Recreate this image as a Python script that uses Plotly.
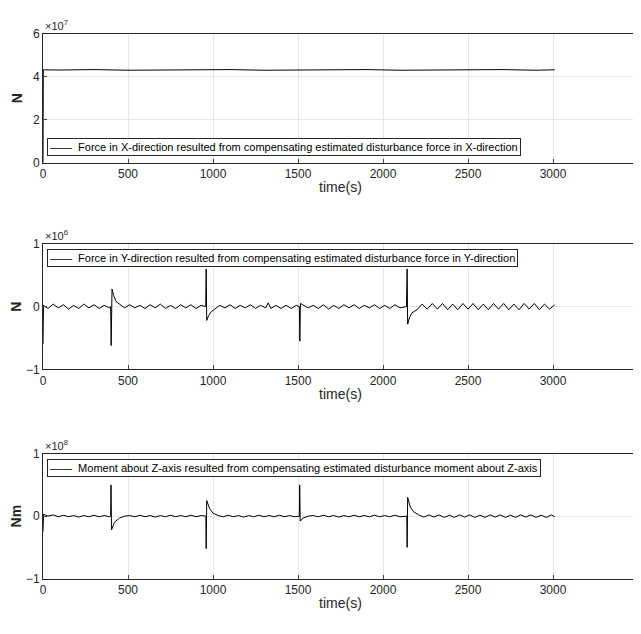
import plotly.graph_objects as go

# Force X (units 1e7 N)
fx_t = [0, 2, 100, 300, 500, 700, 900, 1100, 1300, 1500, 1700, 1900, 2100, 2300, 2500, 2700, 2900, 3010]
fx_v = [0.0, 4.32, 4.31, 4.33, 4.30, 4.32, 4.31, 4.33, 4.30, 4.32, 4.31, 4.33, 4.30, 4.32, 4.31, 4.33, 4.30, 4.32]

# Force Y (units 1e6 N)
fy_t = [0,3,30,60,90,120,150,180,210,240,270,300,330,360,390,398,401,406,415,430,450,480,510,540,570,600,630,660,690,720,750,780,810,840,870,900,930,957,960,963,975,990,1010,1040,1070,1100,1130,1160,1190,1220,1250,1280,1310,1325,1340,1370,1400,1430,1460,1490,1508,1511,1514,1530,1560,1590,1620,1650,1680,1710,1740,1770,1800,1830,1860,1890,1920,1950,1980,2010,2040,2070,2100,2138,2142,2145,2155,2170,2200,2230,2260,2290,2320,2350,2380,2410,2440,2470,2500,2530,2560,2590,2620,2650,2680,2710,2740,2770,2800,2830,2860,2890,2920,2950,2980,3010]
fy_v = [-0.6,0.02,-0.03,0.04,-0.02,0.03,-0.04,0.02,-0.03,0.04,-0.02,0.03,-0.03,0.02,-0.02,0.0,-0.62,0.28,0.18,0.08,0.04,-0.02,0.03,-0.02,0.02,-0.03,0.03,-0.02,0.04,-0.03,0.02,-0.03,0.03,-0.02,0.03,-0.03,0.02,0.0,0.6,-0.22,-0.14,-0.08,-0.04,0.02,-0.02,0.03,-0.03,0.02,-0.02,0.03,-0.03,0.02,-0.02,0.06,-0.03,0.02,-0.03,0.02,-0.03,0.02,0.0,-0.55,0.05,0.03,-0.02,0.02,-0.03,0.03,-0.04,0.02,-0.03,0.03,-0.02,0.03,-0.03,0.02,-0.02,0.03,-0.03,0.02,-0.03,0.03,-0.02,0.0,0.6,-0.28,-0.18,-0.1,-0.05,0.04,-0.04,0.05,-0.04,0.05,-0.05,0.04,-0.05,0.05,-0.04,0.05,-0.05,0.04,-0.05,0.05,-0.04,0.05,-0.05,0.04,-0.05,0.05,-0.04,0.05,-0.05,0.04,-0.04,0.03]

# Moment Z (units 1e8 Nm)
mz_t = [0,3,30,60,90,120,150,180,210,240,270,300,330,360,390,398,400,403,420,450,480,510,540,570,600,630,660,690,720,750,780,810,840,870,900,930,958,960,963,980,1000,1030,1060,1090,1120,1150,1180,1210,1240,1270,1300,1330,1360,1390,1420,1450,1480,1508,1510,1513,1530,1560,1590,1620,1650,1680,1710,1740,1770,1800,1830,1860,1890,1920,1950,1980,2010,2040,2070,2100,2140,2142,2145,2160,2180,2210,2240,2270,2300,2330,2360,2390,2420,2450,2480,2510,2540,2570,2600,2630,2660,2690,2720,2750,2780,2810,2840,2870,2900,2930,2960,2990,3010]
mz_v = [-0.25,0.03,0.0,0.02,-0.01,0.015,-0.01,0.01,-0.015,0.01,-0.01,0.015,-0.01,0.01,-0.01,0.0,0.5,-0.22,-0.1,-0.03,0.0,0.01,-0.01,0.015,-0.01,0.01,-0.015,0.01,-0.01,0.015,-0.01,0.01,-0.01,0.015,-0.01,0.01,0.0,-0.52,0.25,0.12,0.05,0.01,-0.01,0.015,-0.01,0.01,-0.015,0.01,-0.01,0.015,-0.01,0.01,-0.01,0.015,-0.01,0.01,-0.01,0.0,0.5,-0.08,-0.03,0.0,0.01,-0.01,0.015,-0.01,0.01,-0.015,0.01,-0.01,0.015,-0.01,0.01,-0.01,0.015,-0.01,0.01,-0.01,0.015,-0.01,0.0,-0.5,0.3,0.15,0.07,0.02,-0.015,0.02,-0.015,0.02,-0.02,0.015,-0.02,0.02,-0.015,0.02,-0.02,0.015,-0.02,0.02,-0.015,0.02,-0.02,0.015,-0.02,0.02,-0.015,0.02,-0.02,0.015,-0.02,0.02,-0.01,0.0]

panels = [
    (fx_t, fx_v, [0, 6], [0, 2, 4, 6], "N", "7",
     "Force in X-direction resulted from compensating estimated disturbance force in X-direction", "bottom"),
    (fy_t, fy_v, [-1, 1], [-1, 0, 1], "N", "6",
     "Force in Y-direction resulted from compensating estimated disturbance force in Y-direction", "top"),
    (mz_t, mz_v, [-1, 1], [-1, 0, 1], "Nm", "8",
     "Moment about Z-axis resulted from compensating estimated disturbance moment about Z-axis", "top"),
]
domains = [(0.756, 0.9595), (0.430, 0.628), (0.100, 0.297)]
font = "Liberation Sans Narrow, Liberation Sans, Arial"

fig = go.Figure()
layout = dict(width=641, height=634, showlegend=False, plot_bgcolor="white",
              paper_bgcolor="white", margin=dict(l=35, r=11, t=0, b=0, autoexpand=False),
              font=dict(family=font, size=12, color="#262626"))
annotations = []
for i, (t, v, yr, yt, ylab, exp, leg, legpos) in enumerate(panels):
    n = "" if i == 0 else str(i + 1)
    fig.add_trace(go.Scatter(x=t, y=v, mode="lines", line=dict(color="black", width=1),
                             xaxis="x" + n, yaxis="y" + n))
    ax = dict(range=[0, 3500], tickvals=list(range(0, 3501, 500)), showgrid=True,
              gridcolor="#e6e6e6", showline=True, linecolor="#262626", mirror=True,
              ticks="inside", ticklen=4, zeroline=False, anchor="y" + n,
              title=dict(text="time(s)", standoff=2, font=dict(size=14)),
              tickfont=dict(size=12))
    ay = dict(range=yr, tickvals=yt, domain=list(domains[i]), showgrid=True,
              gridcolor="#e6e6e6", showline=True, linecolor="#262626", mirror=True,
              ticks="inside", ticklen=4, zeroline=False, anchor="x" + n,
              title=dict(text="<b>" + ylab + "</b>", standoff=6, font=dict(size=14)),
              tickfont=dict(size=12))
    layout["xaxis" + n] = ax
    layout["yaxis" + n] = ay
    annotations.append(dict(xref="paper", yref="paper", x=0.0, y=domains[i][1],
                            xanchor="left", yanchor="bottom", showarrow=False,
                            text="×10<sup>" + exp + "</sup>", font=dict(size=11)))
    yl = domains[i][0] + 0.01 if legpos == "bottom" else domains[i][1] - 0.008
    annotations.append(dict(xref="paper", yref="paper", x=0.007, y=yl,
                            xanchor="left", yanchor="bottom" if legpos == "bottom" else "top",
                            showarrow=False, text="——  " + leg, font=dict(size=11, color="black"),
                            bordercolor="#262626", borderwidth=1, bgcolor="white", borderpad=2))
layout["annotations"] = annotations
fig.update_layout(**layout)
fig.write_html("out.html")
